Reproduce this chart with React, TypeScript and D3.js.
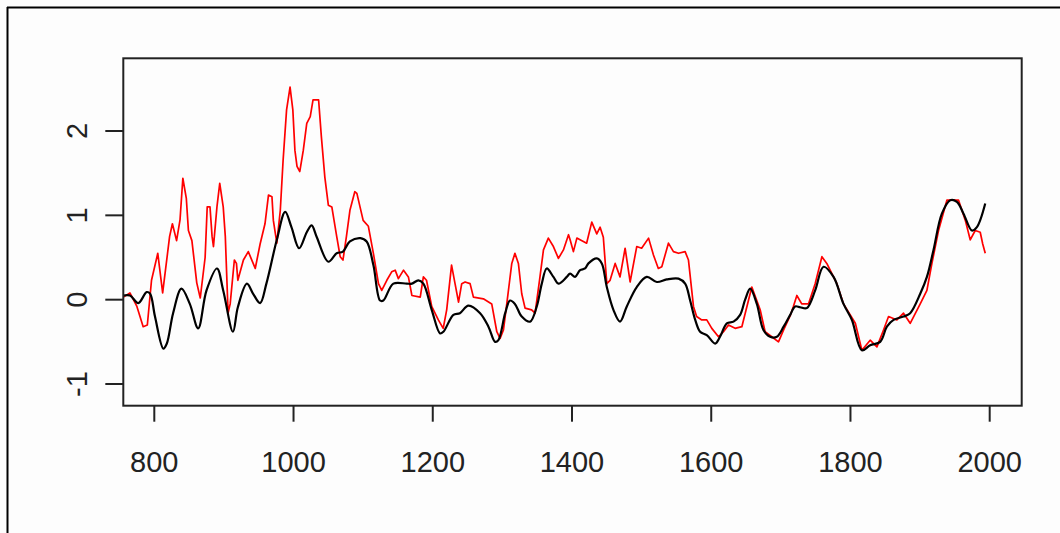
import React from 'react';
import * as d3 from 'd3';

// black: smoothed reconstruction
const blackYears = [
  755.5, 765, 777, 789, 794, 801, 813, 818, 827, 839, 851, 863, 875, 890, 899, 913, 920, 933, 942, 952,
  961, 976, 988, 997, 1008, 1019, 1026, 1033, 1050, 1062, 1071, 1081, 1096, 1105, 1114.7, 1124.3, 1129, 1143.4, 1162.6, 1170,
  1179.3, 1186.5, 1198.5, 1210.5, 1215.3, 1229.6, 1239, 1251.2, 1268, 1280, 1289.5, 1294.3, 1304, 1311, 1318, 1327.8, 1339.8, 1349.4, 1356.6, 1363.7,
  1373.3, 1380.5, 1392.5, 1397.3, 1404.4, 1411.6, 1418.8, 1423.6, 1435.6, 1442.8, 1450, 1459.5, 1469, 1478.7, 1493, 1507.4, 1521.8, 1536, 1553, 1562.5,
  1569.7, 1577, 1584, 1593.6, 1605.6, 1612.6, 1622.4, 1632, 1641.5, 1648.7, 1656, 1665.5, 1675, 1684.6, 1694.2, 1704, 1713.4, 1720.5, 1727.7, 1737.3,
  1749.3, 1761.3, 1775.7, 1790, 1802, 1816.4, 1828.3, 1842.7, 1852.3, 1861.9, 1876.2, 1885.8, 1900.2, 1909.8, 1919.3, 1931.3, 1943.3, 1952.9, 1962.4, 1974.4,
  1981.6, 1993.6,
];
const blackValues = [
  0.05, 0.05, -0.04, 0.09, 0.07, -0.2, -0.58, -0.52, -0.16, 0.13, -0.05, -0.34, 0.11, 0.37, 0.11, -0.38, -0.09, 0.19, 0.07, -0.04,
  0.19, 0.71, 1.04, 0.86, 0.61, 0.8, 0.88, 0.75, 0.45, 0.55, 0.57, 0.69, 0.73, 0.69, 0.41, -0.01, -0.01, 0.19, 0.19, 0.19,
  0.23, 0.19, -0.12, -0.4, -0.38, -0.18, -0.16, -0.07, -0.16, -0.32, -0.5, -0.48, -0.16, -0.01, -0.05, -0.2, -0.26, -0.08, 0.19, 0.37,
  0.27, 0.19, 0.27, 0.31, 0.27, 0.35, 0.37, 0.43, 0.49, 0.43, 0.15, -0.12, -0.26, -0.08, 0.15, 0.27, 0.21, 0.24, 0.25, 0.19,
  -0.01, -0.24, -0.38, -0.42, -0.52, -0.44, -0.28, -0.26, -0.18, 0.0, 0.13, -0.05, -0.36, -0.44, -0.44, -0.32, -0.18, -0.08, -0.09, -0.1,
  0.11, 0.39, 0.27, -0.05, -0.24, -0.6, -0.54, -0.5, -0.32, -0.24, -0.2, -0.16, 0.07, 0.27, 0.59, 1.02, 1.18, 1.16, 1.02, 0.82,
  0.86, 1.14,
];

// red: unsmoothed reconstruction
const redYears = [
  755.5, 765, 775, 784, 790, 796, 805, 812, 822, 826, 832, 837, 841, 846, 849, 854, 861, 866, 873, 876,
  880, 883, 885, 890, 894, 899, 902, 906, 909, 915, 918, 920, 928, 935, 942, 945, 952, 959, 964, 969,
  971, 976, 981, 985, 990, 995, 999, 1002, 1005, 1009, 1014, 1019, 1024, 1028, 1036, 1040, 1045, 1050, 1055, 1062,
  1067, 1071, 1076, 1081, 1088, 1091, 1100, 1107.5, 1114.7, 1122, 1126.7, 1134, 1141, 1146, 1150.6, 1158, 1165, 1170, 1182, 1186.5,
  1191, 1198.5, 1208, 1215, 1220, 1227, 1232, 1237, 1241.6, 1246.4, 1253.6, 1258.4, 1272.7, 1284.7, 1292, 1296.7, 1301.5, 1306.3, 1313.5, 1318,
  1323, 1327.8, 1332.6, 1342, 1347, 1354, 1359, 1366, 1373.3, 1380.5, 1387.7, 1395, 1397.3, 1402, 1407, 1411.6, 1421, 1428.4, 1435.6, 1440.4,
  1445, 1450, 1454.7, 1462, 1469, 1476.3, 1483.5, 1493, 1500, 1510, 1517, 1524, 1529, 1538.5, 1545.7, 1553, 1562.5, 1567.3, 1574.5, 1579,
  1586.4, 1593.6, 1600.8, 1610.4, 1617.6, 1624.8, 1634.3, 1644, 1658.3, 1670.3, 1677.4, 1687, 1696.6, 1703.8, 1713.4, 1718, 1723, 1730, 1739.7, 1749.3,
  1759, 1766, 1780.5, 1790, 1807, 1816.4, 1828.3, 1838, 1847.5, 1854.7, 1866.7, 1876.2, 1885.8, 1900.2, 1909.8, 1917, 1926.5, 1938.5, 1955.3, 1965,
  1972, 1979.2, 1986.4, 1990, 1993.6,
];
const redValues = [
  0.03, 0.08, -0.08, -0.32, -0.3, 0.23, 0.55, 0.08, 0.75, 0.9, 0.7, 0.95, 1.44, 1.2, 0.82, 0.7, 0.2, 0.02, 0.5, 1.1,
  1.1, 0.75, 0.63, 1.1, 1.38, 1.1, 0.75, -0.16, -0.05, 0.47, 0.43, 0.23, 0.47, 0.57, 0.43, 0.37, 0.66, 0.9, 1.24, 1.22,
  0.94, 0.67, 1.06, 1.65, 2.25, 2.52, 2.25, 1.77, 1.58, 1.52, 1.77, 2.09, 2.17, 2.37, 2.37, 1.93, 1.45, 1.12, 1.1, 0.75,
  0.51, 0.47, 0.75, 1.06, 1.28, 1.26, 0.94, 0.87, 0.55, 0.19, 0.11, 0.23, 0.33, 0.35, 0.25, 0.35, 0.27, 0.05, 0.03, 0.27,
  0.23, -0.08, -0.24, -0.34, -0.12, 0.41, 0.19, -0.03, 0.19, 0.21, 0.19, 0.03, 0.01, -0.05, -0.38, -0.46, -0.36, -0.05, 0.43, 0.55,
  0.43, 0.07, -0.1, -0.12, -0.16, 0.27, 0.59, 0.73, 0.63, 0.49, 0.59, 0.77, 0.71, 0.57, 0.73, 0.71, 0.67, 0.92, 0.78, 0.86,
  0.74, 0.19, 0.23, 0.43, 0.27, 0.61, 0.21, 0.63, 0.61, 0.73, 0.53, 0.37, 0.39, 0.67, 0.57, 0.55, 0.57, 0.47, -0.08, -0.2,
  -0.24, -0.24, -0.34, -0.44, -0.38, -0.3, -0.34, -0.32, 0.15, -0.12, -0.38, -0.44, -0.5, -0.36, -0.19, -0.08, 0.05, -0.05, -0.05, 0.19,
  0.51, 0.43, 0.19, -0.05, -0.28, -0.6, -0.48, -0.56, -0.36, -0.2, -0.24, -0.16, -0.28, -0.05, 0.11, 0.43, 0.82, 1.18, 1.18, 0.94,
  0.71, 0.82, 0.8, 0.66, 0.55,
];

const xTicks = [800, 1000, 1200, 1400, 1600, 1800, 2000];
const yTicks = [-1, 0, 1, 2];

export default function App() {
  const width = 1060;
  const height = 533;
  // plot box, R style
  const left = 123.3, right = 1021.7, top = 58.3, bottom = 405.7;

  const x = d3.scaleLinear().domain([755.47, 2045.97]).range([left, right]);
  const y = d3.scaleLinear().domain([-1.257, 2.862]).range([bottom, top]);

  const redLine = d3.line<[number, number]>()
    .x(d => x(d[0]))
    .y(d => y(d[1]));
  // the smoothed series is drawn as a smooth curve
  const blackLine = d3.line<[number, number]>()
    .x(d => x(d[0]))
    .y(d => y(d[1]))
    .curve(d3.curveCatmullRom.alpha(0.5));

  const blackPts = blackYears.map((yr, i) => [yr, blackValues[i]] as [number, number]);
  const redPts = redYears.map((yr, i) => [yr, redValues[i]] as [number, number]);

  const axisColor = '#222';
  const font = '"Liberation Sans", Arial, sans-serif';

  return (
    <svg width={width} height={height} style={{ position: 'absolute', left: 0, top: 0 }}>
      <rect x={0} y={0} width={width} height={height} fill="#fdfdfd" />
      {/* outer frame, runs off the picture on right and bottom */}
      <line x1={7} y1={7.5} x2={width} y2={7.5} stroke="#000" strokeWidth={2} />
      <line x1={7.5} y1={7} x2={7.5} y2={height} stroke="#000" strokeWidth={2} />

      <path d={redLine(redPts) || ''} fill="none" stroke="#ff0000" strokeWidth={1.7} strokeLinejoin="round" />
      <path d={blackLine(blackPts) || ''} fill="none" stroke="#000" strokeWidth={2.2} strokeLinejoin="round" />

      <rect x={left} y={top} width={right - left} height={bottom - top} fill="none" stroke={axisColor} strokeWidth={2} />

      {xTicks.map(t => (
        <g key={t}>
          <line x1={x(t)} x2={x(t)} y1={bottom} y2={bottom + 16} stroke={axisColor} strokeWidth={2} />
          <text x={x(t)} y={471.5} textAnchor="middle" fontFamily={font} fontSize={29} fill={axisColor}>{t}</text>
        </g>
      ))}
      {yTicks.map(t => (
        <g key={t}>
          <line x1={left - 18} x2={left} y1={y(t)} y2={y(t)} stroke={axisColor} strokeWidth={2} />
          <text transform={`translate(87,${y(t)}) rotate(-90)`} textAnchor="middle" fontFamily={font} fontSize={29} fill={axisColor}>{t}</text>
        </g>
      ))}
    </svg>
  );
}
